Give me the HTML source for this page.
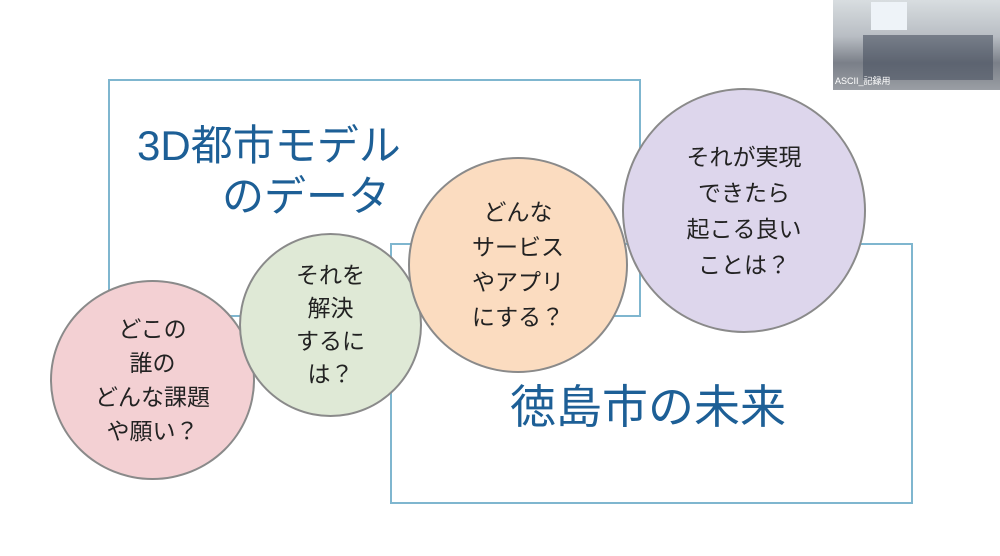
<!DOCTYPE html>
<html><head><meta charset="utf-8"><style>
body{margin:0;width:1000px;height:556px;background:#fff;overflow:hidden;position:relative;font-family:"Liberation Sans","Noto Sans CJK JP",sans-serif}
.r{position:absolute;border:2px solid #7fb6cf;box-sizing:border-box}
.c{position:absolute;border-radius:50%;border:2px solid #8a8a8a;box-sizing:border-box;display:flex;align-items:center;justify-content:center;text-align:center;color:#222;font-size:23px;line-height:35px}
.t{position:absolute;color:#1d5f96;white-space:nowrap}
</style></head><body>
<div class="r" style="left:108px;top:79px;width:533px;height:238px"></div>
<div class="r" style="left:390px;top:243px;width:523px;height:261px"></div>
<div class="t" style="left:137px;top:120px;font-size:42px;line-height:52px">3D都市モデル</div>
<div class="t" style="left:222px;top:171px;font-size:42px;line-height:52px">のデータ</div>
<div class="t" style="left:510px;top:378px;font-size:46px;line-height:58px">徳島市の未来</div>
<div class="c" style="left:50px;top:280px;width:205px;height:200px;background:#f3d0d3;line-height:34px">どこの<br>誰の<br>どんな課題<br>や願い？</div>
<div class="c" style="left:239px;top:233px;width:183px;height:184px;background:#dfe9d6;line-height:33px">それを<br>解決<br>するに<br>は？</div>
<div class="c" style="left:408px;top:157px;width:220px;height:216px;background:#fbdcc0">どんな<br>サービス<br>やアプリ<br>にする？</div>
<div class="c" style="left:622px;top:88px;width:244px;height:245px;background:#ddd6ec;line-height:36px">それが実現<br>できたら<br>起こる良い<br>ことは？</div>
<div style="position:absolute;left:833px;top:0;width:167px;height:90px;background:linear-gradient(180deg,#d8dde0 0%,#b9bec4 40%,#7a7f88 70%,#9a9ea4 100%)">
<div style="position:absolute;left:38px;top:2px;width:36px;height:28px;background:#eef3f8"></div>
<div style="position:absolute;left:30px;top:35px;width:130px;height:45px;background:#4a5260;opacity:.6"></div>
<div style="position:absolute;left:2px;top:74px;color:#fff;font-size:9px">ASCII_記録用</div>
</div>
</body></html>
